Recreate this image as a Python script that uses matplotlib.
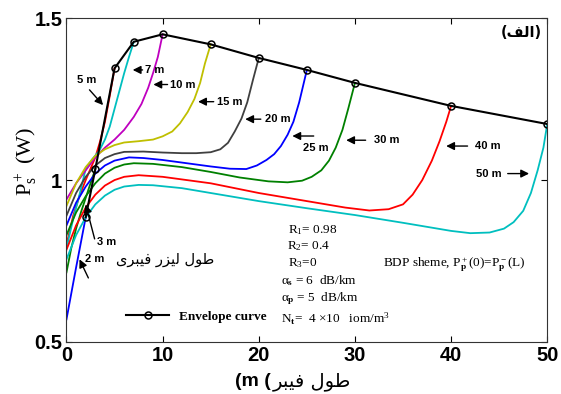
import matplotlib.pyplot as plt

# fibre lengths (m) and the signal power
x_2 = [0, 1, 2]
p_2 = [0.57, 0.73, 0.885]
x_3 = [0, 0.5, 1, 1.5, 2, 2.5, 3]
p_3 = [0.715, 0.79, 0.85, 0.9, 0.945, 0.99, 1.034]
x_5 = [0, 0.7, 1.4, 2, 2.5, 3, 3.5, 4, 4.5, 5]
p_5 = [0.80, 0.89, 0.955, 1.0, 1.035, 1.07, 1.12, 1.18, 1.26, 1.345]
x_7 = [0, 0.7, 1.4, 2, 2.7, 3.4, 4, 4.5, 5, 5.5, 6, 6.5, 7]
p_7 = [0.79, 0.88, 0.96, 1.035, 1.065, 1.09, 1.125, 1.165, 1.22, 1.275, 1.33, 1.38, 1.427]
x_10 = [0, 1, 2, 3, 4, 5, 6, 7, 7.8, 8.5, 9, 9.5, 10]
p_10 = [0.94, 0.99, 1.03, 1.07, 1.10, 1.125, 1.155, 1.195, 1.235, 1.285, 1.33, 1.38, 1.45]
x_15 = [0, 1, 2, 3, 4, 5, 6, 7.5, 9, 10, 11, 11.8, 12.6, 13.3, 13.9, 14.4, 15]
p_15 = [0.92, 0.99, 1.04, 1.075, 1.095, 1.108, 1.116, 1.12, 1.125, 1.135, 1.15, 1.175, 1.21, 1.25, 1.30, 1.36, 1.419]
x_20 = [0, 1, 2, 3, 4, 5, 6, 8, 10, 12, 13.5, 15, 16, 16.8, 17.5, 18.2, 18.8, 19.4, 20]
p_20 = [0.89, 0.96, 1.01, 1.045, 1.068, 1.08, 1.087, 1.088, 1.085, 1.083, 1.083, 1.086, 1.095, 1.115, 1.15, 1.19, 1.24, 1.31, 1.377]
x_25 = [0, 1, 2, 3, 4, 5, 6.5, 8, 10, 12.5, 15, 17, 18.7, 19.8, 20.8, 21.6, 22.3, 23, 23.6, 24.2, 24.6, 25]
p_25 = [0.86, 0.93, 0.98, 1.02, 1.045, 1.06, 1.07, 1.068, 1.062, 1.052, 1.042, 1.035, 1.034, 1.045, 1.062, 1.08, 1.105, 1.14, 1.18, 1.24, 1.29, 1.34]
x_30 = [0, 1, 2, 3, 4, 5, 6, 7, 9, 12, 15, 18, 21, 23, 24.5, 25.5, 26.5, 27.3, 28, 28.7, 29.3, 30]
p_30 = [0.83, 0.9, 0.95, 0.99, 1.02, 1.038, 1.048, 1.052, 1.05, 1.04, 1.025, 1.008, 0.996, 0.993, 0.998, 1.01, 1.03, 1.06, 1.10, 1.155, 1.22, 1.30]
x_40 = [0, 1, 2, 3, 4, 5, 6, 7.5, 10, 15, 20, 25, 29, 31.5, 33.5, 35, 36, 37, 38, 38.8, 39.5, 40]
p_40 = [0.785, 0.86, 0.915, 0.955, 0.983, 1.0, 1.01, 1.015, 1.01, 0.99, 0.96, 0.935, 0.915, 0.906, 0.91, 0.925, 0.955, 1.0, 1.06, 1.12, 1.18, 1.229]
x_50 = [0, 1, 2, 3, 4, 5, 6, 7.5, 9, 12, 16, 20, 25, 30, 35, 40, 42, 44, 45.5, 46.5, 47.5, 48.3, 49, 49.6, 50]
p_50 = [0.755, 0.83, 0.885, 0.925, 0.952, 0.970, 0.980, 0.985, 0.984, 0.975, 0.955, 0.935, 0.913, 0.892, 0.868, 0.843, 0.836, 0.838, 0.850, 0.870, 0.905, 0.960, 1.030, 1.100, 1.173]

env_len = [2, 3, 5, 7, 10, 15, 20, 25, 30, 40, 50]
env_p = [0.885, 1.034, 1.345, 1.427, 1.45, 1.419, 1.377, 1.34, 1.30, 1.229, 1.173]

curves = [(x_2, p_2), (x_3, p_3), (x_5, p_5), (x_7, p_7), (x_10, p_10), (x_15, p_15),
          (x_20, p_20), (x_25, p_25), (x_30, p_30), (x_40, p_40), (x_50, p_50)]
# old matlab colour order
colors = ['#0000ff', '#008000', '#ff0000', '#00bfbf', '#bf00bf', '#bfbf00', '#404040',
          '#0000ff', '#008000', '#ff0000', '#00bfbf']

# arabic text, already in presentation forms and visual order
xlabel_fa = '\ufeae\ufe92\ufef4\ufed3 \ufedd\ufeee\ufec3'
note_fa = '\ufeef\ufeae\ufe92\ufef4\ufed3 \ufead\ufeb0\ufef4\ufedf \ufedd\ufeee\ufec3'
tag_fa = '(\ufed2\ufedf\ufe8d)'

plt.rcParams['mathtext.fontset'] = 'custom'
plt.rcParams['mathtext.rm'] = 'Liberation Serif'
plt.rcParams['mathtext.it'] = 'Liberation Serif'
plt.rcParams['mathtext.bf'] = 'Liberation Serif:bold'

fig = plt.figure(figsize=(5.61, 3.94), dpi=100)
ax = fig.add_axes([0.1185, 0.132, 0.857, 0.822])

for (xs, ps), c in zip(curves, colors):
    ax.plot(xs, ps, color=c, lw=1.3)

ax.plot(env_len, env_p, color='black', lw=1.5, marker='o', ms=5,
        mfc='none', mec='black', mew=1.1, label='Envelope curve')

ax.set_xlim(0, 50)
ax.set_ylim(0.5, 1.5)
ax.set_xticks([0, 10, 20, 30, 40, 50])
ax.set_yticks([0.5, 1, 1.5])
ax.set_yticklabels(['0.5', '1', '1.5'])
ax.tick_params(direction='in', top=True, right=True, length=4)
ax.tick_params(axis='x', pad=3)
ax.tick_params(axis='y', pad=3)
for lab in ax.get_xticklabels() + ax.get_yticklabels():
    lab.set_fontfamily('Liberation Sans')
    lab.set_fontweight('bold')
    lab.set_fontsize(14.5)
for s in ax.spines.values():
    s.set_color('#333333')

ax.set_ylabel('P$_\\mathrm{s}^+$ (W)', family='Liberation Serif', fontsize=16)
ax.yaxis.set_label_coords(-0.055, 0.556)

fig.text(0.482, 0.032, '(m (', ha='right', va='center', family='Liberation Sans',
         fontsize=14, fontweight='bold')
fig.text(0.486, 0.032, xlabel_fa, ha='left', va='center', family='DejaVu Sans', fontsize=14)

ax.text(0.988, 0.955, tag_fa, transform=ax.transAxes, ha='right', va='center',
        family='DejaVu Sans', fontsize=10.5, fontweight='bold')
ax.text(10.3, 0.755, note_fa, ha='center', va='center', family='DejaVu Sans', fontsize=10.5)

# arrows pointing at each curve
arrow = dict(arrowstyle='-|>', color='black', lw=1.0, mutation_scale=12)
lab_kw = dict(family='Liberation Sans', fontweight='bold', fontsize=8, va='center')
ax.annotate('', xy=(4.0, 1.225), xytext=(2.2, 1.285), arrowprops=arrow)
ax.text(2.1, 1.31, '5 m', ha='center', **lab_kw)
ax.annotate('', xy=(6.6, 1.34), xytext=(8.2, 1.34), arrowprops=arrow)
ax.text(8.2, 1.34, '7 m', ha='left', **lab_kw)
ax.annotate('', xy=(8.75, 1.295), xytext=(10.8, 1.295), arrowprops=arrow)
ax.text(10.8, 1.295, '10 m', ha='left', **lab_kw)
ax.annotate('', xy=(13.4, 1.242), xytext=(15.6, 1.242), arrowprops=arrow)
ax.text(15.7, 1.242, '15 m', ha='left', **lab_kw)
ax.annotate('', xy=(18.3, 1.188), xytext=(20.5, 1.188), arrowprops=arrow)
ax.text(20.6, 1.188, '20 m', ha='left', **lab_kw)
ax.annotate('', xy=(23.2, 1.136), xytext=(26.0, 1.136), arrowprops=arrow)
ax.text(24.6, 1.10, '25 m', ha='left', **lab_kw)
ax.annotate('', xy=(28.8, 1.123), xytext=(31.4, 1.123), arrowprops=arrow)
ax.text(32.0, 1.123, '30 m', ha='left', **lab_kw)
ax.annotate('', xy=(39.2, 1.105), xytext=(42.0, 1.105), arrowprops=arrow)
ax.text(42.5, 1.105, '40 m', ha='left', **lab_kw)
ax.annotate('', xy=(48.4, 1.02), xytext=(45.6, 1.02), arrowprops=arrow)
ax.text(45.3, 1.02, '50 m', ha='right', **lab_kw)
ax.annotate('', xy=(1.92, 0.933), xytext=(3.0, 0.81), arrowprops=arrow)
ax.text(3.2, 0.81, '3 m', ha='left', **lab_kw)
ax.annotate('', xy=(1.23, 0.763), xytext=(2.4, 0.69), arrowprops=arrow)
ax.text(1.9, 0.757, '2 m', ha='left', **lab_kw)

# parameter block
par_kw = dict(family='Liberation Serif', fontsize=9.5, va='center')
ax.text(23.0, 0.846, 'R$_1$= 0.98', **par_kw)
ax.text(22.9, 0.795, 'R$_2$= 0.4', **par_kw)
ax.text(23.0, 0.744, 'R$_3$=0', **par_kw)
ax.text(22.3, 0.691, '$\\alpha_\\mathbf{s}$ = 6  dB/km', **par_kw)
ax.text(22.3, 0.635, '$\\alpha_\\mathbf{p}$ = 5  dB/km', **par_kw)
ax.text(22.3, 0.573, 'N$_\\mathbf{t}$=  4 $\\times$10   iom/m$^3$', **par_kw)
ax.text(32.9, 0.739, 'BDP sheme, P$_\\mathbf{p}^+$(0)=P$_\\mathbf{p}^-$(L)', **par_kw)

leg = ax.legend(loc='center left', bbox_to_anchor=(0.1, 0.078), frameon=False,
                handlelength=3.2, handletextpad=0.8,
                prop={'family': 'Liberation Serif', 'weight': 'bold', 'size': 9.5})

fig.savefig('out.png', dpi=100)
